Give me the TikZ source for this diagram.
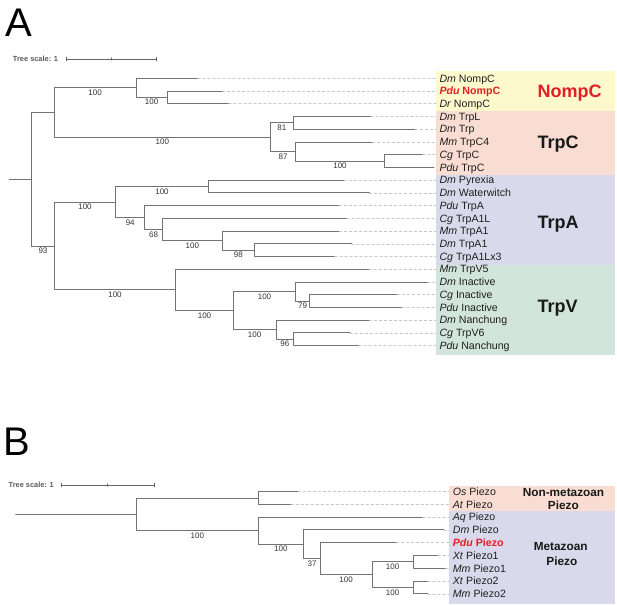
\documentclass[tikz,border=0pt]{standalone}
\usepackage{fontspec}
\setmainfont{Liberation Sans}
\definecolor{nompcbg}{HTML}{FDF9CD}
\definecolor{trpcbg}{HTML}{F9DDD3}
\definecolor{trpabg}{HTML}{D9D9EB}
\definecolor{trpvbg}{HTML}{D1E5DA}
\definecolor{pdured}{HTML}{E31E24}
\tikzset{
	branch/.style={line width=0.9pt,color=black!55},
	leader/.style={line width=0.6pt,color=black!22,dash pattern=on 2.5pt off 2.5pt,shorten >=3.3pt},
	taxon/.style={anchor=west,inner sep=0pt,text height=7.5pt,text depth=0pt,text=black!88,font=\fontsize{10.6}{12}\selectfont},
	boot/.style={below=1.4pt,inner sep=0pt,text height=5.7pt,text depth=0pt,text=black!80,font=\fontsize{8}{8}\selectfont},
	group/.style={anchor=west,inner sep=0pt,text height=12.9pt,text depth=0pt,text=black!90,font=\fontsize{18}{18}\selectfont\bfseries},
	subgroup/.style={inner sep=0pt,text height=8.4pt,text depth=0pt,text=black!90,font=\fontsize{11.8}{12}\selectfont\bfseries},
	scalelbl/.style={anchor=east,inner sep=0pt,text height=5.3pt,text depth=0pt,text=black!65,font=\fontsize{7.4}{8}\selectfont\bfseries},
	sbar/.style={line width=0.6pt,color=black!60},
	panel/.style={anchor=base west,inner sep=0pt,font=\fontsize{40}{40}\selectfont}
}
\begin{document}
\begin{tikzpicture}[line cap=round,line join=round,x=1pt,y=-1pt]
		\useasboundingbox (0,0) rectangle (617,604);
		\fill [nompcbg] (436,71) rectangle (615,110.7);
		\fill [trpcbg] (436,110.7) rectangle (615,175);
		\fill [trpabg] (436,175) rectangle (615,265);
		\fill [trpvbg] (436,265) rectangle (615,355);
		\fill [trpcbg] (449,485.7) rectangle (615,511);
		\fill [trpabg] (449,511) rectangle (615,603.5);
		\node[panel] (pA) at (5,36.7) {A};
		\node[panel] (pB) at (3.8,455.7) {B};
		\node[scalelbl] (scA) at (58.3,59) {Tree scale: 1};
		\coordinate (sbA1) at (66.7,59);
		\coordinate (sbAm) at (111.5,59);
		\coordinate (sbA2) at (156.3,59);
		\draw [sbar] (sbA1) -- (sbA2);
		\draw [sbar] (sbA1) ++(0,-1.8) -- ++(0,3.6);
		\draw [sbar] (sbAm) ++(0,-1.2) -- ++(0,2.4);
		\draw [sbar] (sbA2) ++(0,-1.8) -- ++(0,3.6);
		\node[scalelbl] (scB) at (54,485) {Tree scale: 1};
		\coordinate (sbB1) at (61,485);
		\coordinate (sbBm) at (107.3,485);
		\coordinate (sbB2) at (154,485);
		\draw [sbar] (sbB1) -- (sbB2);
		\draw [sbar] (sbB1) ++(0,-1.8) -- ++(0,3.6);
		\draw [sbar] (sbBm) ++(0,-1.2) -- ++(0,2.4);
		\draw [sbar] (sbB2) ++(0,-1.8) -- ++(0,3.6);
		\coordinate (sA) at (9.3,179.2);
		\coordinate (rA) at (31.7,179.2);
		\coordinate (nNC) at (54.3,112.5);
		\coordinate (nNompC) at (136,87.9);
		\coordinate (nPdDr) at (167.3,97.4);
		\coordinate (nTrpC) at (270.3,137.2);
		\coordinate (n81) at (293.3,122.9);
		\coordinate (n87) at (295.7,151.5);
		\coordinate (nCgPdu) at (384.3,161.1);
		\coordinate (nAV) at (54.3,246);
		\coordinate (nTrpA) at (115.7,202);
		\coordinate (nPyWw) at (208.3,186.5);
		\coordinate (n94) at (144.7,217.5);
		\coordinate (n68) at (162.3,229.5);
		\coordinate (nMmDm) at (222.3,240.6);
		\coordinate (n98) at (254.3,250.2);
		\coordinate (nTrpV) at (175.7,289.9);
		\coordinate (nV2) at (233.3,310.6);
		\coordinate (nInact) at (295.7,291.5);
		\coordinate (n79) at (309.3,301.1);
		\coordinate (nNanch) at (276,329.7);
		\coordinate (n96) at (293.7,339.3);
		\coordinate (tDmNompC) at (197.7,78.3);
		\coordinate (tPduNompC) at (222.3,91);
		\coordinate (tDrNompC) at (228.7,103.8);
		\coordinate (tDmTrpL) at (370.7,116.5);
		\coordinate (tDmTrp) at (415.3,129.2);
		\coordinate (tMmTrpC4) at (372.3,142);
		\coordinate (tCgTrpC) at (422.7,154.7);
		\coordinate (tPduTrpC) at (434,167.4);
		\coordinate (tDmPyr) at (344,180.1);
		\coordinate (tDmWw) at (369.3,192.9);
		\coordinate (tPduTrpA) at (339,205.6);
		\coordinate (tCgTrpAL) at (346.7,218.3);
		\coordinate (tMmTrpA) at (339.3,231.1);
		\coordinate (tDmTrpA) at (351.7,243.8);
		\coordinate (tCgTrpAx) at (334.7,256.5);
		\coordinate (tMmTrpV5) at (369,269.2);
		\coordinate (tDmInact) at (427.7,282);
		\coordinate (tCgInact) at (397.3,294.7);
		\coordinate (tPduInact) at (401.7,307.4);
		\coordinate (tDmNan) at (369.3,320.2);
		\coordinate (tCgTrpV6) at (350,332.9);
		\coordinate (tPduNan) at (358.7,345.6);
		\draw [branch] (sA) -- (rA);
		\draw [branch] (rA) |- (nNC);
		\draw [branch] (rA) |- (nAV) node[boot,pos=0.75] (b93) {93};
		\draw [branch] (nNC) |- (nNompC) node[boot,pos=0.75] (bNompC) {100};
		\draw [branch] (nNC) |- (nTrpC) node[boot,pos=0.75] (bTrpC) {100};
		\draw [branch] (nNompC) |- (tDmNompC);
		\draw [branch] (nNompC) |- (nPdDr) node[boot,pos=0.75] (bPdDr) {100};
		\draw [branch] (nPdDr) |- (tPduNompC);
		\draw [branch] (nPdDr) |- (tDrNompC);
		\draw [branch] (nTrpC) |- (n81) node[boot,pos=0.75] (b81) {81};
		\draw [branch] (nTrpC) |- (n87) node[boot,pos=0.75] (b87) {87};
		\draw [branch] (n81) |- (tDmTrpL);
		\draw [branch] (n81) |- (tDmTrp);
		\draw [branch] (n87) |- (tMmTrpC4);
		\draw [branch] (n87) |- (nCgPdu) node[boot,pos=0.75] (bCgPdu) {100};
		\draw [branch] (nCgPdu) |- (tCgTrpC);
		\draw [branch] (nCgPdu) |- (tPduTrpC);
		\draw [branch] (nAV) |- (nTrpA) node[boot,pos=0.75] (bTrpA) {100};
		\draw [branch] (nAV) |- (nTrpV) node[boot,pos=0.75] (bTrpV) {100};
		\draw [branch] (nTrpA) |- (nPyWw) node[boot,pos=0.75] (bPyWw) {100};
		\draw [branch] (nTrpA) |- (n94) node[boot,pos=0.75] (b94) {94};
		\draw [branch] (nPyWw) |- (tDmPyr);
		\draw [branch] (nPyWw) |- (tDmWw);
		\draw [branch] (n94) |- (tPduTrpA);
		\draw [branch] (n94) |- (n68) node[boot,pos=0.75] (b68) {68};
		\draw [branch] (n68) |- (tCgTrpAL);
		\draw [branch] (n68) |- (nMmDm) node[boot,pos=0.75] (bMmDm) {100};
		\draw [branch] (nMmDm) |- (tMmTrpA);
		\draw [branch] (nMmDm) |- (n98) node[boot,pos=0.75] (b98) {98};
		\draw [branch] (n98) |- (tDmTrpA);
		\draw [branch] (n98) |- (tCgTrpAx);
		\draw [branch] (nTrpV) |- (tMmTrpV5);
		\draw [branch] (nTrpV) |- (nV2) node[boot,pos=0.75] (bV2) {100};
		\draw [branch] (nV2) |- (nInact) node[boot,pos=0.75] (bInact) {100};
		\draw [branch] (nV2) |- (nNanch) node[boot,pos=0.75] (bNanch) {100};
		\draw [branch] (nInact) |- (tDmInact);
		\draw [branch] (nInact) |- (n79) node[boot,pos=0.75] (b79) {79};
		\draw [branch] (n79) |- (tCgInact);
		\draw [branch] (n79) |- (tPduInact);
		\draw [branch] (nNanch) |- (tDmNan);
		\draw [branch] (nNanch) |- (n96) node[boot,pos=0.75] (b96) {96};
		\draw [branch] (n96) |- (tCgTrpV6);
		\draw [branch] (n96) |- (tPduNan);
		\node[taxon] (lDmNompC) at (439.3,78.3) {\textit{Dm} NompC};
		\node[taxon,text=pdured,font=\fontsize{10.6}{12}\selectfont\bfseries] (lPduNompC) at (439.3,91) {\textit{Pdu} NompC};
		\node[taxon] (lDrNompC) at (439.3,103.8) {\textit{Dr} NompC};
		\node[taxon] (lDmTrpL) at (439.3,116.5) {\textit{Dm} TrpL};
		\node[taxon] (lDmTrp) at (439.3,129.2) {\textit{Dm} Trp};
		\node[taxon] (lMmTrpC4) at (439.3,142) {\textit{Mm} TrpC4};
		\node[taxon] (lCgTrpC) at (439.3,154.7) {\textit{Cg} TrpC};
		\node[taxon] (lPduTrpC) at (439.3,167.4) {\textit{Pdu} TrpC};
		\node[taxon] (lDmPyr) at (439.3,180.1) {\textit{Dm} Pyrexia};
		\node[taxon] (lDmWw) at (439.3,192.9) {\textit{Dm} Waterwitch};
		\node[taxon] (lPduTrpA) at (439.3,205.6) {\textit{Pdu} TrpA};
		\node[taxon] (lCgTrpAL) at (439.3,218.3) {\textit{Cg} TrpA1L};
		\node[taxon] (lMmTrpA) at (439.3,231.1) {\textit{Mm} TrpA1};
		\node[taxon] (lDmTrpA) at (439.3,243.8) {\textit{Dm} TrpA1};
		\node[taxon] (lCgTrpAx) at (439.3,256.5) {\textit{Cg} TrpA1Lx3};
		\node[taxon] (lMmTrpV5) at (439.3,269.2) {\textit{Mm} TrpV5};
		\node[taxon] (lDmInact) at (439.3,282) {\textit{Dm} Inactive};
		\node[taxon] (lCgInact) at (439.3,294.7) {\textit{Cg} Inactive};
		\node[taxon] (lPduInact) at (439.3,307.4) {\textit{Pdu} Inactive};
		\node[taxon] (lDmNan) at (439.3,320.2) {\textit{Dm} Nanchung};
		\node[taxon] (lCgTrpV6) at (439.3,332.9) {\textit{Cg} TrpV6};
		\node[taxon] (lPduNan) at (439.3,345.6) {\textit{Pdu} Nanchung};
		\draw [leader] (tDmNompC) -- (lDmNompC);
		\draw [leader] (tPduNompC) -- (lPduNompC);
		\draw [leader] (tDrNompC) -- (lDrNompC);
		\draw [leader] (tDmTrpL) -- (lDmTrpL);
		\draw [leader] (tDmTrp) -- (lDmTrp);
		\draw [leader] (tMmTrpC4) -- (lMmTrpC4);
		\draw [leader] (tCgTrpC) -- (lCgTrpC);
		\draw [leader] (tDmPyr) -- (lDmPyr);
		\draw [leader] (tDmWw) -- (lDmWw);
		\draw [leader] (tPduTrpA) -- (lPduTrpA);
		\draw [leader] (tCgTrpAL) -- (lCgTrpAL);
		\draw [leader] (tMmTrpA) -- (lMmTrpA);
		\draw [leader] (tDmTrpA) -- (lDmTrpA);
		\draw [leader] (tCgTrpAx) -- (lCgTrpAx);
		\draw [leader] (tMmTrpV5) -- (lMmTrpV5);
		\draw [leader] (tDmInact) -- (lDmInact);
		\draw [leader] (tCgInact) -- (lCgInact);
		\draw [leader] (tPduInact) -- (lPduInact);
		\draw [leader] (tDmNan) -- (lDmNan);
		\draw [leader] (tCgTrpV6) -- (lCgTrpV6);
		\draw [leader] (tPduNan) -- (lPduNan);
		\node[group,text=pdured] (gNompC) at (537.5,91.2) {NompC};
		\node[group] (gTrpC) at (537.5,142.3) {TrpC};
		\node[group] (gTrpA) at (537.5,221.7) {TrpA};
		\node[group] (gTrpV) at (537.5,306.5) {TrpV};
		\coordinate (sB) at (15.7,514.4);
		\coordinate (rB) at (136.7,514.4);
		\coordinate (nOsAt) at (258,498);
		\coordinate (nMeta) at (258,530.7);
		\coordinate (nDmP) at (303.7,544.3);
		\coordinate (n37) at (320.3,558.7);
		\coordinate (nP12) at (372,574.7);
		\coordinate (nP1) at (413.3,561.9);
		\coordinate (nP2) at (413.3,587.5);
		\coordinate (tOs) at (298.3,491.7);
		\coordinate (tAt) at (291,504.3);
		\coordinate (tAq) at (422.7,517.1);
		\coordinate (tDmP) at (443.7,529.9);
		\coordinate (tPduP) at (396.3,542.7);
		\coordinate (tXt1) at (438,555.5);
		\coordinate (tMm1) at (445.7,568.3);
		\coordinate (tXt2) at (427.7,581.1);
		\coordinate (tMm2) at (427.7,593.9);
		\draw [branch] (sB) -- (rB);
		\draw [branch] (rB) |- (nOsAt);
		\draw [branch] (rB) |- (nMeta) node[boot,pos=0.75] (bMeta) {100};
		\draw [branch] (nOsAt) |- (tOs);
		\draw [branch] (nOsAt) |- (tAt);
		\draw [branch] (nMeta) |- (tAq);
		\draw [branch] (nMeta) |- (nDmP) node[boot,pos=0.75] (bDmP) {100};
		\draw [branch] (nDmP) |- (tDmP);
		\draw [branch] (nDmP) |- (n37) node[boot,pos=0.75] (b37) {37};
		\draw [branch] (n37) |- (tPduP);
		\draw [branch] (n37) |- (nP12) node[boot,pos=0.75] (bP12) {100};
		\draw [branch] (nP12) |- (nP1) node[boot,pos=0.75] (bP1) {100};
		\draw [branch] (nP12) |- (nP2) node[boot,pos=0.75] (bP2) {100};
		\draw [branch] (nP1) |- (tXt1);
		\draw [branch] (nP1) |- (tMm1);
		\draw [branch] (nP2) |- (tXt2);
		\draw [branch] (nP2) |- (tMm2);
		\node[taxon] (lOs) at (452.7,491.7) {\textit{Os} Piezo};
		\node[taxon] (lAt) at (452.7,504.3) {\textit{At} Piezo};
		\node[taxon] (lAq) at (452.7,517.1) {\textit{Aq} Piezo};
		\node[taxon] (lDmP) at (452.7,529.9) {\textit{Dm} Piezo};
		\node[taxon,text=pdured,font=\fontsize{10.6}{12}\selectfont\bfseries] (lPduP) at (452.7,542.7) {\textit{Pdu} Piezo};
		\node[taxon] (lXt1) at (452.7,555.5) {\textit{Xt} Piezo1};
		\node[taxon] (lMm1) at (452.7,568.3) {\textit{Mm} Piezo1};
		\node[taxon] (lXt2) at (452.7,581.1) {\textit{Xt} Piezo2};
		\node[taxon] (lMm2) at (452.7,593.9) {\textit{Mm} Piezo2};
		\draw [leader,shorten >=3.7pt] (tOs) -- (lOs);
		\draw [leader,shorten >=3.7pt] (tAt) -- (lAt);
		\draw [leader,shorten >=3.7pt] (tAq) -- (lAq);
		\draw [leader,shorten >=3.7pt] (tDmP) -- (lDmP);
		\draw [leader,shorten >=3.7pt] (tPduP) -- (lPduP);
		\draw [leader,shorten >=3.7pt] (tXt1) -- (lXt1);
		\draw [leader,shorten >=3.7pt] (tMm1) -- (lMm1);
		\draw [leader,shorten >=3.7pt] (tXt2) -- (lXt2);
		\draw [leader,shorten >=3.7pt] (tMm2) -- (lMm2);
		\node[subgroup] (gNonMeta) at (563.5,492.5) {Non-metazoan};
		\node[subgroup] (gNonMetaP) at (563.3,505.5) {Piezo};
		\node[subgroup] (gMeta) at (560.7,546) {Metazoan};
		\node[subgroup] (gMetaP) at (561.8,561) {Piezo};
	\end{tikzpicture}
\end{document}
